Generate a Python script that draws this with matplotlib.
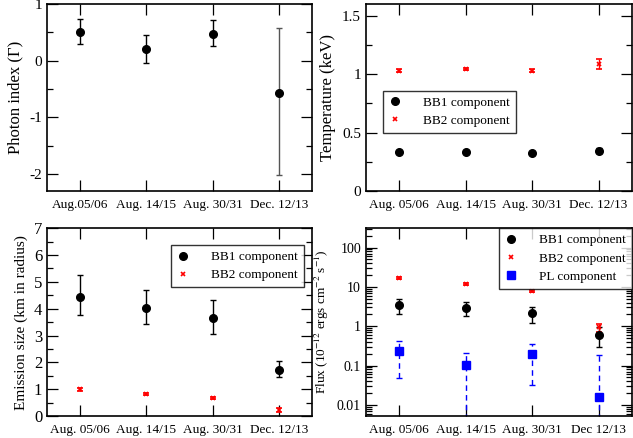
import numpy as np
import matplotlib
matplotlib.use('Agg')
import matplotlib.pyplot as plt
from matplotlib.lines import Line2D
from matplotlib.ticker import MultipleLocator, LogLocator, NullFormatter

plt.rcParams['font.family'] = ['Liberation Serif', 'DejaVu Serif']
plt.rcParams['mathtext.fontset'] = 'stix'
plt.rcParams['axes.unicode_minus'] = False

# epochs
dates = ['Aug.05/06', 'Aug. 14/15', 'Aug. 30/31', 'Dec. 12/13']
dates_rt = ['Aug. 05/06', 'Aug. 14/15', 'Aug. 30/31', 'Dec. 12/13']
dates_br = ['Aug. 05/06', 'Aug. 14/15', 'Aug. 30/31', 'Dec 12/13']

# photon index (value, upper err, lower err)
gamma = [0.51, 0.20, 0.47, -0.58]
gamma_up = [0.22, 0.26, 0.24, 1.16]
gamma_lo = [0.22, 0.25, 0.22, 1.44]

# temperatures (keV)
kt1 = [0.335, 0.337, 0.326, 0.345]
kt1_err = [0.008, 0.008, 0.008, 0.02]
kt2 = [1.028, 1.043, 1.028, 1.085]
kt2_err = [0.012, 0.012, 0.012, 0.04]

# emission size (km)
r1 = [4.45, 4.02, 3.65, 1.71]
r1_up = [0.80, 0.69, 0.68, 0.35]
r1_lo = [0.70, 0.60, 0.59, 0.27]
r2 = [1.0, 0.81, 0.67, 0.22]
r2_err = [0.05, 0.04, 0.04, 0.07]

# fluxes (1e-12 erg/cm2/s)
f1 = [3.5, 2.9, 2.15, 0.6]
f1_up = [4.9, 4.1, 3.1, 0.93]
f1_lo = [2.0, 1.77, 1.22, 0.3]
f2 = [16.5, 11.8, 7.7, 0.93]
f2_up = [17.5, 12.5, 8.2, 1.15]
f2_lo = [15.5, 11.1, 7.2, 0.72]
fpl = [0.24, 0.104, 0.197, 0.0155]
fpl_up = [0.43, 0.21, 0.36, 0.185]
fpl_lo = [0.049, 0.001, 0.032, 0.001]

x = np.arange(1, 5)

fig = plt.figure(figsize=(6.33, 4.38), dpi=100)
ax1 = fig.add_axes([0.0743, 0.564, 0.419, 0.427])
ax2 = fig.add_axes([0.578, 0.564, 0.420, 0.427])
ax3 = fig.add_axes([0.0743, 0.050, 0.419, 0.429])
ax4 = fig.add_axes([0.578, 0.050, 0.420, 0.429])

h_bb1 = Line2D([], [], ls='none', marker='o', color='black', ms=5.5)
h_bb2 = Line2D([], [], ls='none', marker='x', color='red', ms=3.5, mew=1.2)
h_pl = Line2D([], [], ls='none', marker='s', color='blue', ms=5.5)


def style(ax, labels):
    ax.set_xlim(0.5, 4.5)
    ax.set_xticks(x)
    ax.set_xticklabels(labels, fontsize=9.5)
    ax.tick_params(which='both', direction='in', top=True, right=True)
    ax.tick_params(which='major', length=8, width=0.9)
    ax.tick_params(which='minor', length=4, width=0.9)
    ax.tick_params(axis='y', labelsize=11)
    ax.tick_params(axis='x', pad=6)
    for s in ax.spines.values():
        s.set_linewidth(1.2)


def legend(ax, handles, labels, **kw):
    leg = ax.legend(handles, labels, fontsize=9.5, frameon=True, fancybox=False,
                    edgecolor='black', handlelength=1.0, handletextpad=1.6,
                    borderpad=0.45, labelspacing=0.45, borderaxespad=0, **kw)
    leg.get_frame().set_linewidth(1)
    return leg


# photon index
style(ax1, dates)
ax1.errorbar(x[:3], gamma[:3], yerr=[gamma_lo[:3], gamma_up[:3]], fmt='o', color='black',
             ms=5.5, capsize=2, elinewidth=1)
ax1.errorbar(x[3:], gamma[3:], yerr=[gamma_lo[3:], gamma_up[3:]], fmt='o', color='black',
             ecolor='#555555', ms=5.5, capsize=2, elinewidth=1)
ax1.set_ylim(-2.3, 1)
ax1.yaxis.set_major_locator(MultipleLocator(1))
ax1.yaxis.set_minor_locator(MultipleLocator(0.5))
ax1.set_ylabel('Photon index (Γ)', fontsize=12)

# temperature
style(ax2, dates_rt)
ax2.errorbar(x, kt1, yerr=kt1_err, fmt='o', color='black', ms=5.5, capsize=2, elinewidth=1)
ax2.errorbar(x, kt2, yerr=kt2_err, fmt='x', color='red', ms=3.5, mew=1.2, capsize=2,
             elinewidth=1)
ax2.set_ylim(0, 1.6)
ax2.yaxis.set_minor_locator(MultipleLocator(0.25))
ax2.set_yticks([0, 0.5, 1, 1.5])
ax2.set_yticklabels(['0', '0.5', '1', '1.5'])
ax2.set_ylabel('Temperature (keV)', fontsize=12)
legend(ax2, [h_bb1, h_bb2], ['BB1 component', 'BB2 component'],
       loc='lower left', bbox_to_anchor=(0.064, 0.31))

# emission size
style(ax3, dates_rt)
ax3.errorbar(x, r1, yerr=[r1_lo, r1_up], fmt='o', color='black', ms=5.5, capsize=2,
             elinewidth=1)
ax3.errorbar(x, r2, yerr=r2_err, fmt='x', color='red', ms=3.5, mew=1.2, capsize=2,
             elinewidth=1)
ax3.set_ylim(0, 7)
ax3.yaxis.set_major_locator(MultipleLocator(1))
ax3.yaxis.set_minor_locator(MultipleLocator(0.5))
ax3.tick_params(axis='y', labelsize=12)
ax3.set_ylabel('Emission size (km in radius)', fontsize=11)
legend(ax3, [h_bb1, h_bb2], ['BB1 component', 'BB2 component'],
       loc='upper left', bbox_to_anchor=(0.466, 0.91))

# flux
style(ax4, dates_br)
ax4.set_yscale('log')
f1 = np.array(f1)
f2 = np.array(f2)
fpl = np.array(fpl)
ax4.errorbar(x, f1, yerr=[f1 - np.array(f1_lo), np.array(f1_up) - f1], fmt='o',
             color='black', ms=5.5, capsize=2, elinewidth=1)
ax4.errorbar(x, f2, yerr=[f2 - np.array(f2_lo), np.array(f2_up) - f2], fmt='x',
             color='red', ms=3.5, mew=1.2, capsize=2, elinewidth=1)
eb = ax4.errorbar(x, fpl, yerr=[fpl - np.array(fpl_lo), np.array(fpl_up) - fpl], fmt='s',
                  color='blue', ms=5.5, capsize=2, elinewidth=1)
eb[-1][0].set_linestyle((0, (4, 3)))
ax4.set_ylim(0.0052, 310)
ax4.yaxis.set_minor_locator(LogLocator(base=10, subs=np.arange(2, 10), numticks=10))
ax4.yaxis.set_minor_formatter(NullFormatter())
ax4.set_yticks([0.01, 0.1, 1, 10, 100])
ax4.set_yticklabels(['0.01', '0.1', '1', '10', '100'])
ax4.tick_params(axis='y', labelsize=10)
ax4.set_ylabel('Flux (10$^{-12}$ ergs cm$^{-2}$ s$^{-1}$)', fontsize=9.5)
legend(ax4, [h_bb1, h_bb2, h_pl], ['BB1 component', 'BB2 component', 'PL component'],
       loc='upper left', bbox_to_anchor=(0.5, 1.0))

fig.savefig('out.png', dpi=100)
